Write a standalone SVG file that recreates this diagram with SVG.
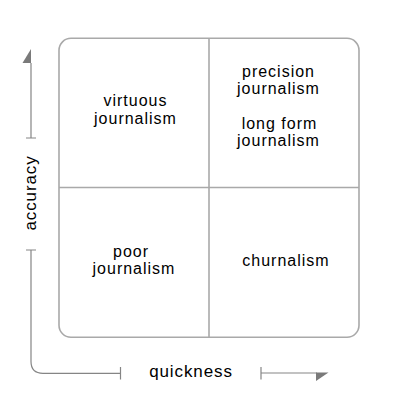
<svg xmlns="http://www.w3.org/2000/svg" width="400" height="410" viewBox="0 0 400 410">
<style>
.grid{fill:none;stroke:#a9a9a9;stroke-width:1.6}
.axis{fill:none;stroke:#858585;stroke-width:1.2}
.head{fill:#7a7a7a;stroke:none}
.q{font-family:"Liberation Sans",Arial,sans-serif;font-size:16px;letter-spacing:1px;fill:#000;text-anchor:middle}
.ax{font-family:"Liberation Sans",Arial,sans-serif;font-size:17px;letter-spacing:0.9px;fill:#000;text-anchor:middle}
</style>
<rect width="400" height="410" fill="#fff"/>
<g id="grid">
<rect class="grid" x="59" y="38.3" width="300" height="299" rx="12" ry="12"/>
<line class="grid" x1="209" y1="38.3" x2="209" y2="337.3"/>
<line class="grid" x1="59" y1="187.5" x2="359" y2="187.5"/>
</g>
<g id="virtuous">
<text class="q" x="135.5" y="106">virtuous</text>
<text class="q" x="135.5" y="123.5">journalism</text>
</g>
<g id="precision">
<text class="q" x="278.5" y="77">precision</text>
<text class="q" x="278.5" y="94">journalism</text>
</g>
<g id="longform">
<text class="q" x="279.5" y="129">long form</text>
<text class="q" x="278.5" y="146">journalism</text>
</g>
<g id="poor">
<text class="q" x="131" y="257">poor</text>
<text class="q" x="134" y="274">journalism</text>
</g>
<g id="churnalism">
<text class="q" x="286" y="266">churnalism</text>
</g>
<g id="connectors">
<path class="axis" d="M31 63 V138 M26 138 H36"/>
<polygon class="head" points="31,49 31,63 22.5,63"/>
<path class="axis" d="M26 250 H36 M31 250 V361.5 Q31 373.3 43 373.3 H120.5 M120.5 367 V379.5"/>
<path class="axis" d="M261 367 V379.5 M261 373 H317"/>
<polygon class="head" points="316,372.5 328.5,372.5 316,381"/>
</g>
<g id="labels">
<text class="ax" transform="translate(35.5,193) rotate(-90)">accuracy</text>
<text class="ax" x="191" y="377">quickness</text>
</g>
</svg>
